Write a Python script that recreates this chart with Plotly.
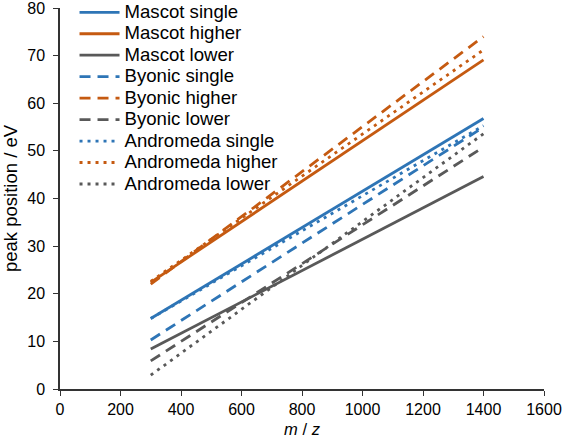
import plotly.graph_objects as go

mz = [300, 1400]
mascot_single = [14.8, 56.8]
mascot_higher = [22.4, 69.1]
mascot_lower = [8.4, 44.6]
byonic_single = [10.3, 55.0]
byonic_higher = [22.0, 74.0]
byonic_lower = [5.9, 50.8]
andromeda_single = [14.8, 55.3]
andromeda_higher = [22.6, 71.2]
andromeda_lower = [2.9, 53.6]

x_ticks = [0, 200, 400, 600, 800, 1000, 1200, 1400, 1600]
y_ticks = [0, 10, 20, 30, 40, 50, 60, 70, 80]

BLUE = "#2E75B6"
ORANGE = "#C55A11"
GRAY = "#595959"

DASH = "11px,7px"
DOT = "3px,5px"

series = [
    ("Mascot single", mascot_single, BLUE, "solid"),
    ("Mascot higher", mascot_higher, ORANGE, "solid"),
    ("Mascot lower", mascot_lower, GRAY, "solid"),
    ("Byonic single", byonic_single, BLUE, DASH),
    ("Byonic higher", byonic_higher, ORANGE, DASH),
    ("Byonic lower", byonic_lower, GRAY, DASH),
    ("Andromeda single", andromeda_single, BLUE, DOT),
    ("Andromeda higher", andromeda_higher, ORANGE, DOT),
    ("Andromeda lower", andromeda_lower, GRAY, DOT),
]

fig = go.Figure()
for name, ys, color, dash in series:
    fig.add_trace(go.Scatter(
        x=mz, y=ys, mode="lines",
        name='<span style="font-size:18.6px">' + name + '</span>',
        line=dict(color=color, width=2.8, dash=dash),
    ))

FONT = "Liberation Sans, Arial, sans-serif"

fig.update_layout(
    width=566, height=442,
    margin=dict(l=60, r=22, t=8, b=53, autoexpand=False),
    paper_bgcolor="white", plot_bgcolor="white",
    font=dict(family=FONT, size=16, color="#000000"),
    showlegend=True,
    legend=dict(
        x=0.03, y=1.03, xanchor="left", yanchor="top",
        bgcolor="rgba(0,0,0,0)",
        font=dict(family=FONT, size=14.2, color="#000000"),
        tracegroupgap=0, itemwidth=40,
    ),
    xaxis=dict(
        range=[0, 1600], tickvals=x_ticks, ticktext=[str(v) for v in x_ticks],
        showgrid=False, zeroline=False, showline=True, linecolor="#333333",
        linewidth=1.5, ticks="outside", ticklen=5, tickcolor="#333333",
        tickfont=dict(size=16), automargin=False, ticklabeloverflow="allow",
        title=dict(text="<i>m</i> / <i>z</i>", font=dict(size=16.5), standoff=6),
    ),
    yaxis=dict(
        range=[0, 80], tickvals=y_ticks, ticktext=[str(v) for v in y_ticks],
        showgrid=False, zeroline=False, showline=True, linecolor="#333333",
        linewidth=1.5, ticks="outside", ticklen=5, tickcolor="#333333",
        tickfont=dict(size=16), automargin=False, ticklabeloverflow="allow",
        ticklabelstandoff=5,
        title=dict(text="peak position / eV", font=dict(size=18.5), standoff=6),
    ),
)

fig.write_html("out.html", post_script="document.body.style.margin='0';",
               config={"displayModeBar": False})
